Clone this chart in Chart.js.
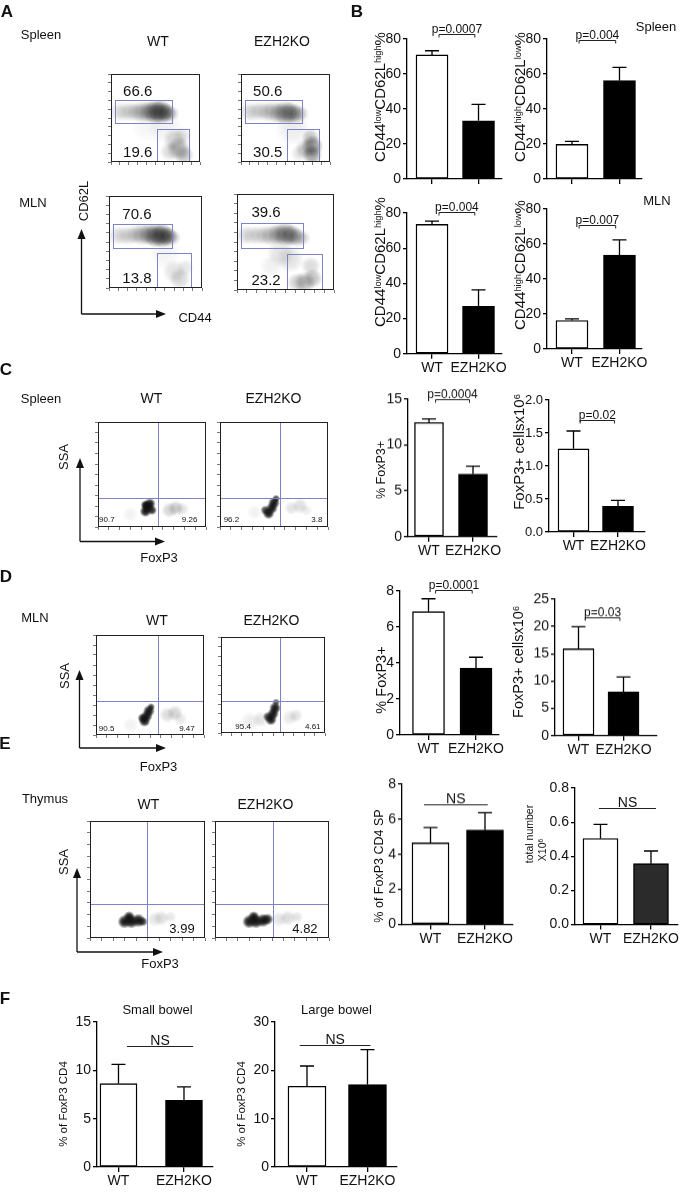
<!DOCTYPE html>
<html>
<head>
<meta charset="utf-8">
<script src="https://cdn.jsdelivr.net/npm/chart.js@4.4.0/dist/chart.umd.min.js"></script>
<style>
body{margin:0;background:#fff;width:685px;height:1193px;position:relative;overflow:hidden;font-family:'Liberation Sans',Arial,sans-serif;color:#111}
.box{position:absolute}
.t{position:absolute;white-space:nowrap;transform:translate(-50%,-50%);line-height:1;z-index:5}
.r{transform:translate(-50%,-50%) rotate(-90deg)}
sup{font-size:62%;position:relative;top:-0.45em;vertical-align:baseline;line-height:0}
svg{position:absolute;left:0;top:0;z-index:4}
</style>
</head>
<body>
<svg id="arrows" width="685" height="1193"></svg>
<script>
// ---- data ----
const groups = ['WT', 'EZH2KO'];

// B: CD44/CD62L subsets, mean and sem (%)
const spleenNaive = [70.9, 33.3], spleenNaiveSem = [2.4, 9.4];
const spleenEffector = [19.8, 56.2], spleenEffectorSem = [1.7, 7.6];
const mlnNaive = [73.5, 27.0], mlnNaiveSem = [1.9, 9.3];
const mlnEffector = [16.3, 53.6], mlnEffectorSem = [0.9, 8.8];

// C-F: FoxP3 Tregs
const spleenTregPct = [12.45, 6.83], spleenTregPctSem = [0.4, 0.87];
const spleenTregNum = [1.26, 0.39], spleenTregNumSem = [0.27, 0.09];
const mlnTregPct = [6.85, 3.72], mlnTregPctSem = [0.72, 0.6];
const mlnTregNum = [15.9, 8.0], mlnTregNumSem = [4.05, 2.76];
const thymusTregPct = [4.65, 5.38], thymusTregPctSem = [0.88, 0.99];
const thymusTregNum = [0.504, 0.357], thymusTregNumSem = [0.083, 0.074];
const smallBowelPct = [8.63, 6.9], smallBowelSem = [1.99, 1.38];
const largeBowelPct = [16.7, 17.05], largeBowelSem = [4.2, 7.25];

const pValues = ['p=0.0007', 'p=0.004', 'p=0.004', 'p=0.007', 'p=0.0004', 'p=0.02', 'p=0.0001', 'p=0.03'];

// flow plots: gate percentages
const cd44Gates = [['66.6', '19.6'], ['50.6', '30.5'], ['70.6', '13.8'], ['39.6', '23.2']];
const spleenFoxp3Quad = [['90.7', '9.26'], ['96.2', '3.8']];
const mlnFoxp3Quad = [['90.5', '9.47'], ['95.4', '4.61']];
const thymusFoxp3Quad = ['3.99', '4.82'];

// gate boxes on a 0-100 display scale [x0, x1, y0, y1]
const naiveGate = [4, 68, 44, 70];
const effectorGate = [52, 88, 1, 38];

// dot clouds, estimated: [x, y, radius px, density]
const wtSpleenDots = [[8,57,10,0.1],[15,57,10,0.12],[22,57,10,0.15],[29,57,10,0.18],[36,57,11,0.25],[43,57,11,0.35],[50,57,12,0.5],[56,57,12,0.55],[62,56,10,0.4],[68,55,8,0.2],
  [72,25,12,0.18],[76,15,12,0.28],[82,8,10,0.25],[66,12,10,0.15],[80,30,9,0.12],[60,40,18,0.06],[40,40,16,0.04]];
const koSpleenDots = [[8,57,10,0.12],[15,57,10,0.12],[22,58,10,0.14],[29,57,10,0.16],[36,57,11,0.2],[43,56,11,0.28],[50,56,12,0.38],[56,56,11,0.38],[62,55,10,0.28],[68,55,8,0.15],
  [80,18,11,0.45],[80,8,10,0.4],[78,28,9,0.25],[72,15,10,0.2],[66,10,9,0.12],[58,38,18,0.08]];
const wtMlnDots = [[8,57,10,0.1],[15,57,10,0.12],[22,57,10,0.14],[29,58,10,0.18],[36,58,11,0.25],[43,58,11,0.35],[50,57,12,0.5],[57,57,12,0.6],[63,56,10,0.45],[69,55,8,0.2],
  [70,18,12,0.12],[76,10,11,0.16],[82,22,9,0.1],[60,38,16,0.05]];
const koMlnDots = [[8,57,10,0.12],[15,57,10,0.12],[22,57,10,0.14],[29,57,10,0.16],[36,57,11,0.22],[43,58,11,0.32],[50,58,12,0.42],[56,57,11,0.38],[62,55,10,0.25],[68,54,8,0.15],
  [45,38,14,0.12],[55,32,14,0.12],[35,25,12,0.06],[62,8,10,0.2],[70,8,11,0.28],[78,12,10,0.25],[76,25,10,0.15]];
const wtSpleenTreg = [[44,15,6,1],[46,19,6,1],[48,22,6,1],[44,21,5,1],[50,16,5,0.9],[66,16,8,0.18],[72,18,8,0.2],[78,17,7,0.12],[30,12,8,0.06]];
const koSpleenTreg = [[45,13,6,1],[48,18,6,1],[50,23,6,1],[52,27,4,0.8],[42,16,5,0.8],[66,18,7,0.12],[74,20,8,0.14],[80,16,6,0.08],[32,14,8,0.06]];
const wtMlnTreg = [[45,14,6,1],[47,19,6,1],[49,24,6,1],[51,28,4,0.8],[43,17,5,0.9],[66,20,8,0.15],[73,22,8,0.18],[78,16,7,0.1],[32,10,8,0.06]];
const koMlnTreg = [[48,14,6,1],[50,20,6,1],[52,26,6,1],[53,32,4,0.7],[45,17,5,0.8],[28,12,10,0.08],[38,14,8,0.12],[66,16,8,0.1],[72,18,7,0.12]];
const wtThymusTreg = [[30,14,7,1],[36,14,7,1],[42,15,7,1],[34,18,6,1],[46,14,5,0.8],[56,16,8,0.1],[62,17,8,0.14],[70,18,6,0.1]];
const koThymusTreg = [[30,14,7,1],[36,14,7,1],[42,15,7,1],[46,16,6,0.9],[34,18,6,1],[56,16,8,0.12],[64,17,8,0.15],[72,18,6,0.12]];

// ---- setup ----
Chart.defaults.font.family = "'Liberation Sans', Arial, sans-serif";
Chart.defaults.color = '#111';

const errbars = {
  id: 'errbars',
  afterDatasetsDraw(chart, args, o) {
    if (!o || !o.sem) return;
    const ctx = chart.ctx, ys = chart.scales.y, meta = chart.getDatasetMeta(0);
    ctx.save();
    ctx.strokeStyle = '#000';
    ctx.lineWidth = 1.3;
    meta.data.forEach((bar, i) => {
      const v = chart.data.datasets[0].data[i].y;
      const top = ys.getPixelForValue(v + o.sem[i]);
      ctx.beginPath();
      ctx.moveTo(bar.x, bar.y);
      ctx.lineTo(bar.x, top);
      ctx.moveTo(bar.x - 7, top);
      ctx.lineTo(bar.x + 7, top);
      ctx.stroke();
    });
    ctx.restore();
  }
};

const sig = {
  id: 'sig',
  afterDraw(chart, args, o) {
    if (!o || !o.text) return;
    const ctx = chart.ctx, xs = chart.scales.x, ys = chart.scales.y;
    const y = Math.round(ys.getPixelForValue(o.y)) + 0.5;
    const x0 = xs.getPixelForValue(1 + o.span[0]), x1 = xs.getPixelForValue(1 + o.span[1]);
    ctx.save();
    ctx.strokeStyle = '#222';
    ctx.lineWidth = 1;
    ctx.beginPath();
    if (o.bracket) {
      ctx.moveTo(x0, y + 3); ctx.lineTo(x0, y); ctx.lineTo(x1, y); ctx.lineTo(x1, y + 3);
    } else {
      ctx.moveTo(x0, y); ctx.lineTo(x1, y);
    }
    ctx.stroke();
    ctx.fillStyle = '#111';
    ctx.font = o.size + "px 'Liberation Sans', Arial";
    ctx.textAlign = 'center';
    ctx.fillText(o.text, (x0 + x1) / 2, y - 2);
    ctx.restore();
  }
};

const flow = {
  id: 'flow',
  afterDatasetsDraw(chart, args, o) {
    if (!o || !o.on) return;
    const ctx = chart.ctx, a = chart.chartArea, x = chart.scales.x, y = chart.scales.y;
    ctx.save();
    ctx.strokeStyle = '#7d83c3';
    ctx.lineWidth = 1;
    (o.gates || []).forEach(g => {
      const x0 = Math.round(x.getPixelForValue(g[0])) + .5, x1 = Math.round(x.getPixelForValue(g[1])) + .5;
      const y0 = Math.round(y.getPixelForValue(g[3])) + .5, y1 = Math.round(y.getPixelForValue(g[2])) + .5;
      ctx.strokeRect(x0, y0, x1 - x0, y1 - y0);
    });
    if (o.quad) {
      const qx = Math.round(x.getPixelForValue(o.quad[0])) + .5, qy = Math.round(y.getPixelForValue(o.quad[1])) + .5;
      ctx.beginPath();
      ctx.moveTo(qx, a.top); ctx.lineTo(qx, a.bottom);
      ctx.moveTo(a.left, qy); ctx.lineTo(a.right, qy);
      ctx.stroke();
    }
    ctx.strokeStyle = '#222';
    ctx.strokeRect(a.left + .5, a.top + .5, a.right - a.left - 1, a.bottom - a.top - 1);
    ctx.fillStyle = '#111';
    ctx.textBaseline = 'middle';
    (o.labels || []).forEach(l => {
      ctx.font = l[4] + "px 'Liberation Sans', Arial";
      ctx.textAlign = l[3];
      ctx.fillText(l[0], x.getPixelForValue(l[1]), y.getPixelForValue(l[2]));
    });
    ctx.restore();
  }
};

Chart.register(errbars, sig, flow);

function makeCanvas(left, top, w, h) {
  const d = document.createElement('div');
  d.className = 'box';
  Object.assign(d.style, {left: left + 'px', top: top + 'px', width: w + 'px', height: h + 'px'});
  const c = document.createElement('canvas');
  d.appendChild(c);
  document.body.appendChild(d);
  return c;
}

function txt(s, x, y, size, rot, bold) {
  const d = document.createElement('div');
  d.className = 't' + (rot ? ' r' : '');
  d.style.left = x + 'px';
  d.style.top = y + 'px';
  d.style.fontSize = size + 'px';
  if (bold) d.style.fontWeight = 'bold';
  d.innerHTML = s;
  document.body.appendChild(d);
}

function arrow(x1, y1, x2, y2) {
  const svg = document.getElementById('arrows');
  const dx = x2 - x1, dy = y2 - y1, len = Math.hypot(dx, dy), ux = dx / len, uy = dy / len;
  const hl = 10, hw = 4;
  const bx = x2 - ux * hl, by = y2 - uy * hl;
  svg.insertAdjacentHTML('beforeend',
    `<line x1="${x1}" y1="${y1}" x2="${bx}" y2="${by}" stroke="#111" stroke-width="1.3"/>` +
    `<polygon points="${x2},${y2} ${bx - uy * hw},${by + ux * hw} ${bx + uy * hw},${by - ux * hw}" fill="#111"/>`);
}

function barChart(o) {
  const yW = 44, padTop = 34, padR = 34, xH = 26;
  const c = makeCanvas(o.L - yW, o.top - padTop, yW + (o.R - o.L) + padR, padTop + (o.bottom - o.top) + xH);
  new Chart(c, {
    type: 'bar',
    data: {
      datasets: [{
        data: o.values.map((v, i) => ({x: i + 1, y: v})),
        backgroundColor: ['#fff', o.koColor || '#000'],
        borderColor: '#000',
        borderWidth: 1.4,
        borderSkipped: false,
        barThickness: o.bw
      }]
    },
    options: {
      responsive: true,
      maintainAspectRatio: false,
      animation: false,
      events: [],
      layout: {padding: {top: padTop, right: padR, left: 0, bottom: 0}},
      plugins: {
        legend: {display: false},
        tooltip: {enabled: false},
        errbars: {sem: o.sem},
        sig: o.sig
      },
      scales: {
        x: {
          type: 'linear', min: o.xmin, max: o.xmax, offset: false, bounds: 'data',
          afterBuildTicks: s => { s.ticks = [{value: 1}, {value: 2}]; },
          afterFit: s => { s.height = xH; },
          ticks: {callback: v => o.xlabels ? groups[v - 1] : '', font: {size: 14}, color: '#111', padding: 1, maxRotation: 0, autoSkip: false},
          grid: {offset: false, drawOnChartArea: false, tickLength: 5, color: '#000', lineWidth: 1.3},
          border: {color: '#000', width: 1.3}
        },
        y: {
          min: 0, max: o.ymax,
          afterFit: s => { s.width = yW; },
          ticks: {stepSize: o.step, font: {size: o.tickSize || 14}, color: '#111', padding: 2, callback: o.fmt || (v => v)},
          grid: {drawOnChartArea: false, tickLength: 4, color: '#000', lineWidth: 1.3},
          border: {color: '#000', width: 1.3}
        }
      }
    }
  });
}

function blobFill(c) {
  const p = c.raw, ch = c.chart;
  if (!p || !ch.chartArea) return 'rgba(0,0,0,0)';
  const px = ch.scales.x.getPixelForValue(p.x), py = ch.scales.y.getPixelForValue(p.y);
  const g = ch.ctx.createRadialGradient(px, py, 0, px, py, p.r);
  g.addColorStop(0, 'rgba(15,15,15,' + p.d + ')');
  g.addColorStop(0.5, 'rgba(15,15,15,' + (p.d * 0.8) + ')');
  g.addColorStop(1, 'rgba(15,15,15,0)');
  return g;
}

function flowChart(o) {
  const m = 6;
  const c = makeCanvas(o.l - m, o.t - 2, o.w + m + 2, o.h + m + 2);
  const axis = (fit) => ({
    min: 0, max: 100, afterFit: fit,
    ticks: {display: false, stepSize: 10},
    grid: {drawOnChartArea: false, tickLength: 3, color: '#555', lineWidth: 0.8},
    border: {display: false}
  });
  new Chart(c, {
    type: 'bubble',
    data: {
      datasets: [{
        data: o.dots.map(b => ({x: b[0], y: b[1], r: b[2], d: b[3]})),
        backgroundColor: blobFill,
        borderWidth: 0,
        clip: 0
      }]
    },
    options: {
      responsive: true,
      maintainAspectRatio: false,
      animation: false,
      events: [],
      layout: {padding: {top: 2, right: 2, left: 0, bottom: 0}},
      plugins: {legend: {display: false}, tooltip: {enabled: false}, flow: {on: true, gates: o.gates, quad: o.quad, labels: o.labels}},
      scales: {
        x: axis(s => { s.height = m; }),
        y: axis(s => { s.width = m; })
      }
    }
  });
}

// ---- panel A ----
txt('A', 7, 11, 17, false, true);
txt('Spleen', 41, 34, 13);
txt('MLN', 33, 202, 13);
txt('WT', 158, 41, 14);
txt('EZH2KO', 282, 41, 14);
const aBoxes = [[99, 58], [229, 58], [99, 182], [229, 182]];
const aDots = [wtSpleenDots, koSpleenDots, wtMlnDots, koMlnDots];
aBoxes.forEach((b, i) => flowChart({
  l: b[0], t: b[1], w: 117, h: 116, dots: aDots[i],
  gates: [naiveGate, effectorGate],
  labels: [[cd44Gates[i][0], 30, 80, 'center', 15], [cd44Gates[i][1], 30, 10, 'center', 15]]
}));
arrow(81.5, 314, 81.5, 229);
arrow(81.5, 314, 166, 314);
txt('CD62L', 82.5, 201, 13, true);
txt('CD44', 195, 317, 13);

// ---- panel B ----
txt('B', 357, 11, 17, false, true);
txt('Spleen', 656, 26, 13);
txt('MLN', 657, 200, 13);
const naiveTitle = 'CD44<sup>low</sup>CD62L<sup>high</sup>%';
const effTitle = 'CD44<sup>high</sup>CD62L<sup>low</sup>%';
txt(naiveTitle, 378.5, 97, 15, true);
txt(effTitle, 518.5, 97, 15, true);
txt(naiveTitle, 378.5, 262, 15, true);
txt(effTitle, 518.5, 265, 15, true);
const bracket = [0.15, 0.92];
barChart({L: 407, R: 502, top: 39, bottom: 179, ymax: 80, step: 20, xmin: 0.462, xmax: 2.505, bw: 32,
  values: spleenNaive, sem: spleenNaiveSem, sig: {text: pValues[0], y: 82.9, span: bracket, bracket: true, size: 12}});
barChart({L: 547, R: 642, top: 39, bottom: 179, ymax: 80, step: 20, xmin: 0.474, xmax: 2.474, bw: 32,
  values: spleenEffector, sem: spleenEffectorSem, sig: {text: pValues[1], y: 79.4, span: bracket, bracket: true, size: 12}});
barChart({L: 407, R: 502, top: 212.7, bottom: 353.5, ymax: 80, step: 20, xmin: 0.462, xmax: 2.505, bw: 32, xlabels: true,
  values: mlnNaive, sem: mlnNaiveSem, sig: {text: pValues[2], y: 80.7, span: bracket, bracket: true, size: 12}});
barChart({L: 547, R: 642, top: 208.5, bottom: 348.5, ymax: 80, step: 20, xmin: 0.474, xmax: 2.474, bw: 32, xlabels: true,
  values: mlnEffector, sem: mlnEffectorSem, sig: {text: pValues[3], y: 71.1, span: bracket, bracket: true, size: 12}});

// ---- panel C ----
txt('C', 6, 369, 17, false, true);
txt('Spleen', 41, 398, 13);
txt('WT', 151.5, 398, 14);
txt('EZH2KO', 273.5, 398, 14);
flowChart({l: 96, t: 416, w: 116, h: 113, dots: wtSpleenTreg, quad: [56, 27.4],
  labels: [[spleenFoxp3Quad[0][0], 1, 6.6, 'left', 8], [spleenFoxp3Quad[0][1], 92, 6.6, 'right', 8]]});
flowChart({l: 218, t: 416, w: 116, h: 113, dots: koSpleenTreg, quad: [56, 27.4],
  labels: [[spleenFoxp3Quad[1][0], 3.4, 6.6, 'left', 8], [spleenFoxp3Quad[1][1], 94.8, 6.6, 'right', 8]]});
arrow(80, 541.5, 80, 458);
arrow(80, 541.5, 165, 541.5);
txt('SSA', 62.5, 456.5, 13, true);
txt('FoxP3', 159, 556.5, 13);
txt('% FoxP3+', 381, 470, 12.5, true);
txt('FoxP3+ cellsx10<sup>6</sup>', 518, 452, 15, true);
barChart({L: 408, R: 497, top: 399.3, bottom: 536, ymax: 15, step: 5, xmin: 0.523, xmax: 2.545, bw: 29, xlabels: true,
  values: spleenTregPct, sem: spleenTregPctSem, sig: {text: pValues[4], y: 15.0, span: bracket, bracket: true, size: 12}});
barChart({L: 549, R: 645, top: 400, bottom: 532, ymax: 2, step: 0.5, xmin: 0.449, xmax: 2.607, bw: 31, xlabels: true, fmt: v => v.toFixed(1), tickSize: 13,
  values: spleenTregNum, sem: spleenTregNumSem, sig: {text: pValues[5], y: 1.70, span: bracket, bracket: true, size: 12}});

// ---- panel D ----
txt('D', 6, 576, 17, false, true);
txt('MLN', 35, 617, 13);
txt('WT', 157, 620, 14);
txt('EZH2KO', 271.5, 620, 14);
flowChart({l: 94, t: 629, w: 116, h: 108, dots: wtMlnTreg, quad: [57, 33.6],
  labels: [[mlnFoxp3Quad[0][0], 2.6, 6, 'left', 8], [mlnFoxp3Quad[0][1], 91.4, 6, 'right', 8]]});
flowChart({l: 217, t: 629, w: 116, h: 108, dots: koMlnTreg, quad: [57, 33.6],
  labels: [[mlnFoxp3Quad[1][0], 13.8, 6, 'left', 8], [mlnFoxp3Quad[1][1], 95.7, 6, 'right', 8]]});
arrow(79.5, 748, 79.5, 670);
arrow(79.5, 748, 166, 748);
txt('SSA', 63.5, 675.5, 13, true);
txt('FoxP3', 158.5, 766, 13);
txt('% FoxP3+', 380.5, 680, 14.5, true);
txt('FoxP3+ cellsx10<sup>6</sup>', 518, 662, 14.5, true);
barChart({L: 400, R: 499, top: 591, bottom: 735, ymax: 8, step: 2, xmin: 0.4, xmax: 2.484, bw: 32, xlabels: true,
  values: mlnTregPct, sem: mlnTregPctSem, sig: {text: pValues[6], y: 8.05, span: bracket, bracket: true, size: 12}});
barChart({L: 555, R: 657, top: 599.3, bottom: 735, ymax: 25, step: 5, xmin: 0.478, xmax: 2.744, bw: 31, xlabels: true,
  values: mlnTregNum, sem: mlnTregNumSem, sig: {text: pValues[7], y: 21.7, span: bracket, bracket: true, size: 12}});

// ---- panel E ----
txt('E', 5, 742.5, 17, false, true);
txt('Thymus', 45, 797.5, 13);
txt('WT', 148.5, 804, 14);
txt('EZH2KO', 265.5, 804, 14);
flowChart({l: 88, t: 815, w: 123, h: 125, dots: wtThymusTreg, quad: [49.6, 28.8],
  labels: [[thymusFoxp3Quad[0], 91, 7.2, 'right', 13]]});
flowChart({l: 213, t: 815, w: 122, h: 125, dots: koThymusTreg, quad: [50.8, 28.8],
  labels: [[thymusFoxp3Quad[1], 90, 7.2, 'right', 13]]});
arrow(77, 952, 77, 868);
arrow(77, 952, 163, 952);
txt('SSA', 62.5, 862, 13, true);
txt('FoxP3', 160, 963, 13);
txt('% of FoxP3 CD4 SP', 379, 866, 12.5, true);
txt('total number', 529, 834, 10.5, true);
txt('X10<sup>6</sup>', 542, 850, 10.5, true);
const nsLine = [-0.12, 1.05];
barChart({L: 402, R: 513, top: 784.3, bottom: 923.7, ymax: 8, step: 2, xmin: 0.477, xmax: 2.514, bw: 37, xlabels: true,
  values: thymusTregPct, sem: thymusTregPctSem, sig: {text: 'NS', y: 6.86, span: nsLine, size: 14}});
barChart({L: 575, R: 678, top: 787.7, bottom: 924.3, ymax: 0.8, step: 0.2, xmin: 0.495, xmax: 2.535, bw: 35, xlabels: true, fmt: v => v.toFixed(1), koColor: '#2b2b2b',
  values: thymusTregNum, sem: thymusTregNumSem, sig: {text: 'NS', y: 0.684, span: [-0.03, 1.1], size: 14}});

// ---- panel F ----
txt('F', 5, 997.5, 17, false, true);
txt('Small bowel', 157.5, 1009, 13);
txt('Large bowel', 336.5, 1009, 13);
txt('% of FoxP3 CD4', 64, 1104, 11.5, true);
txt('% of FoxP3 CD4', 242, 1104, 11.5, true);
barChart({L: 97, R: 213, top: 1021.7, bottom: 1166.7, ymax: 15, step: 5, xmin: 0.672, xmax: 2.443, bw: 37, xlabels: true,
  values: smallBowelPct, sem: smallBowelSem, sig: {text: 'NS', y: 12.5, span: [0.13, 1.14], size: 14}});
barChart({L: 275, R: 397, top: 1021.7, bottom: 1166.7, ymax: 30, step: 10, xmin: 0.471, xmax: 2.488, bw: 38, xlabels: true,
  values: largeBowelPct, sem: largeBowelSem, sig: {text: 'NS', y: 25.2, span: nsLine, size: 14}});
</script>
</body>
</html>
